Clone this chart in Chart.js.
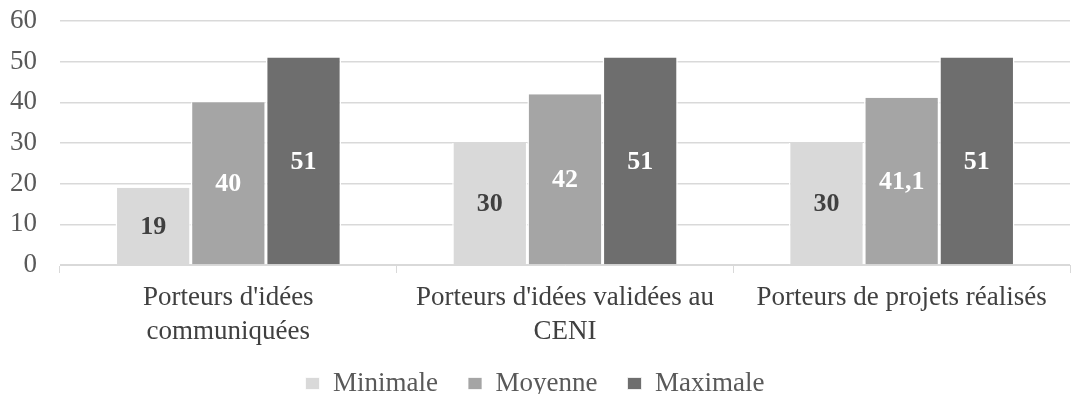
<!DOCTYPE html>
<html lang="fr">
<head>
<meta charset="utf-8">
<script src="https://cdn.jsdelivr.net/npm/chart.js@4/dist/chart.umd.min.js"></script>
<style>
  html, body { margin: 0; padding: 0; background: #fff; }
  #wrap { width: 1075px; height: 403px; }
</style>
</head>
<body>
<div id="wrap"><canvas id="porteursChart"></canvas></div>
<script>
// categories et valeurs
const categories = [
  ["Porteurs d'idées", "communiquées"],
  ["Porteurs d'idées validées au", "CENI"],
  "Porteurs de projets réalisés"
];
const minimale = [19, 30, 30];
const moyenne = [40, 42, 41.1];
const maximale = [51, 51, 51];
const yTicks = [0, 10, 20, 30, 40, 50, 60];

const police = "'Liberation Serif', 'Times New Roman', serif";

// étiquettes de valeur au centre des barres
const etiquettes = {
  id: 'etiquettes',
  afterLayout(chart) {
    // remonte un peu les entrées de la légende
    if (chart.legend) {
      chart.legend.top -= 9;
      chart.legend.bottom -= 9;
    }
  },
  afterDatasetsDraw(chart) {
    const ctx = chart.ctx;
    ctx.save();
    ctx.font = 'bold 26px ' + police;
    ctx.textAlign = 'center';
    ctx.textBaseline = 'middle';
    chart.data.datasets.forEach((ds, i) => {
      const meta = chart.getDatasetMeta(i);
      meta.data.forEach((bar, j) => {
        const v = ds.data[j];
        const y = (bar.y + bar.base) / 2;
        ctx.fillStyle = ds.labelColor;
        ctx.fillText(String(v).replace('.', ','), bar.x, y + 1);
      });
    });
    ctx.restore();
  }
};

new Chart(document.getElementById('porteursChart'), {
  type: 'bar',
  data: {
    labels: categories,
    datasets: [
      { label: 'Minimale', data: minimale, backgroundColor: '#d9d9d9', labelColor: '#404040' },
      { label: 'Moyenne', data: moyenne, backgroundColor: '#a5a5a5', labelColor: '#ffffff' },
      { label: 'Maximale', data: maximale, backgroundColor: '#6e6e6e', labelColor: '#ffffff' }
    ].map(d => Object.assign(d, {
      borderColor: '#ffffff',
      borderWidth: { top: 0, left: 1.5, right: 1.5, bottom: 0 },
      categoryPercentage: 0.67,
      barPercentage: 1
    }))
  },
  options: {
    responsive: true,
    maintainAspectRatio: false,
    animation: false,
    layout: { padding: { left: 0, right: 5, top: 21, bottom: 0 } },
    plugins: {
      legend: {
        position: 'bottom',
        maxHeight: 54,
        labels: {
          font: { family: police, size: 27 },
          color: '#595959',
          boxWidth: 14,
          boxHeight: 12,
          padding: 30
        }
      },
      tooltip: { enabled: false }
    },
    scales: {
      x: {
        afterFit(axis) { axis.height = 84; },
        grid: {
          offset: true,
          drawOnChartArea: false,
          drawTicks: true,
          tickLength: 8,
          color: '#d9d9d9'
        },
        border: { display: true, color: '#d9d9d9', width: 1 },
        ticks: {
          font: { family: police, size: 27, lineHeight: 1.26 },
          color: '#404040',
          maxRotation: 0,
          padding: 8
        }
      },
      y: {
        min: 0,
        max: 60,
        afterBuildTicks(axis) { axis.ticks = yTicks.map(v => ({ value: v })); },
        afterFit(axis) {
          axis.width = 60;
          axis.paddingTop = 0;
          axis.paddingBottom = 0;
        },
        grid: { color: '#d9d9d9', lineWidth: 1.5, drawTicks: false },
        border: { display: false },
        ticks: {
          font: { family: police, size: 27 },
          color: '#595959',
          padding: 23
        }
      }
    }
  },
  plugins: [etiquettes]
});
</script>
</body>
</html>
